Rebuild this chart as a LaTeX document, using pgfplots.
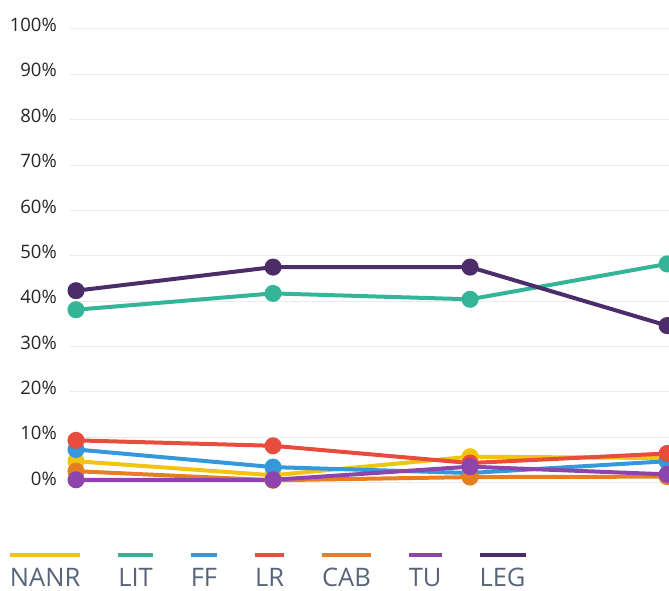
\documentclass[border=0pt]{standalone}
\usepackage{pgfplots}
\pgfplotsset{compat=1.18}
\usepackage{fontspec}
\usepackage{calc}
\setmainfont{Open Sans}

\definecolor{cNANR}{HTML}{F1C40F}
\definecolor{cLIT}{HTML}{35B597}
\definecolor{cFF}{HTML}{3498DB}
\definecolor{cLR}{HTML}{E74C3C}
\definecolor{cCAB}{HTML}{E67E22}
\definecolor{cTU}{HTML}{8E44AD}
\definecolor{cLEG}{HTML}{4D2C6A}
\definecolor{ticktext}{HTML}{262626}
\definecolor{legtext}{HTML}{56657A}
\definecolor{gridc}{HTML}{EBEBEB}

% legend entry: coloured bar above the name, bar as wide as the name
\newcommand\lgd[2]{\vbox{\offinterlineskip
  \hbox{{\color{#1}\rule{\widthof{#2}}{4pt}}}\kern11pt\hbox{#2}}}

\begin{document}
\begin{tikzpicture}
\begin{axis}[
  at={(70pt,-505.2pt)}, anchor=south west,
  scale only axis,
  width=599pt, height=476.2pt,
  xmin=-0.0305, xmax=3.0095,
  ymin=-5, ymax=100,
  axis line style={draw=none},
  xtick=\empty,
  ytick={0,10,...,100},
  major tick length=0pt,
  ymajorgrids,
  major grid style={draw=gridc, line width=1pt},
  yticklabel={\pgfmathprintnumber{\tick}\%},
  /pgf/number format/assume math mode=true,
  yticklabel style={font=\fontsize{18.5}{22}\selectfont, text=ticktext,
    anchor=east, inner sep=0pt, xshift=-13pt, yshift=4pt},
  every axis plot/.append style={line width=4pt, mark=*, mark size=6.5pt},
  legend columns=-1,
  legend image code/.code={},
  legend style={at={(-0.1002,-0.1004)}, anchor=north west,
    draw=none, fill=none, inner sep=0pt, outer sep=0pt,
    font=\fontsize{25.5}{30}\selectfont, text=legtext,
    column sep=0pt,
    nodes={inner sep=0pt},
    /tikz/every even column/.append style={column sep=38pt}},
]
\addplot[color=cNANR] coordinates {(0,4.7) (1,1.6) (2,5.7) (3,5.4)};
\addlegendentry{\lgd{cNANR}{NANR}}
\addplot[color=cLIT] coordinates {(0,38.1) (1,41.7) (2,40.4) (3,48.2)};
\addlegendentry{\lgd{cLIT}{LIT}}
\addplot[color=cFF] coordinates {(0,7.3) (1,3.4) (2,2.1) (3,4.7)};
\addlegendentry{\lgd{cFF}{FF}}
\addplot[color=cLR] coordinates {(0,9.3) (1,8.1) (2,4.3) (3,6.4)};
\addlegendentry{\lgd{cLR}{LR}}
\addplot[color=cCAB] coordinates {(0,2.5) (1,0.5) (2,1.2) (3,1.3)};
\addlegendentry{\lgd{cCAB}{CAB}}
\addplot[color=cTU] coordinates {(0,0.6) (1,0.6) (2,3.5) (3,1.8)};
\addlegendentry{\lgd{cTU}{TU}}
\addplot[color=cLEG] coordinates {(0,42.3) (1,47.5) (2,47.5) (3,34.6)};
\addlegendentry{\lgd{cLEG}{LEG}}
\end{axis}
\pgfresetboundingbox
\path[use as bounding box] (0,0) rectangle (669pt,-591pt);
\end{tikzpicture}
\end{document}
